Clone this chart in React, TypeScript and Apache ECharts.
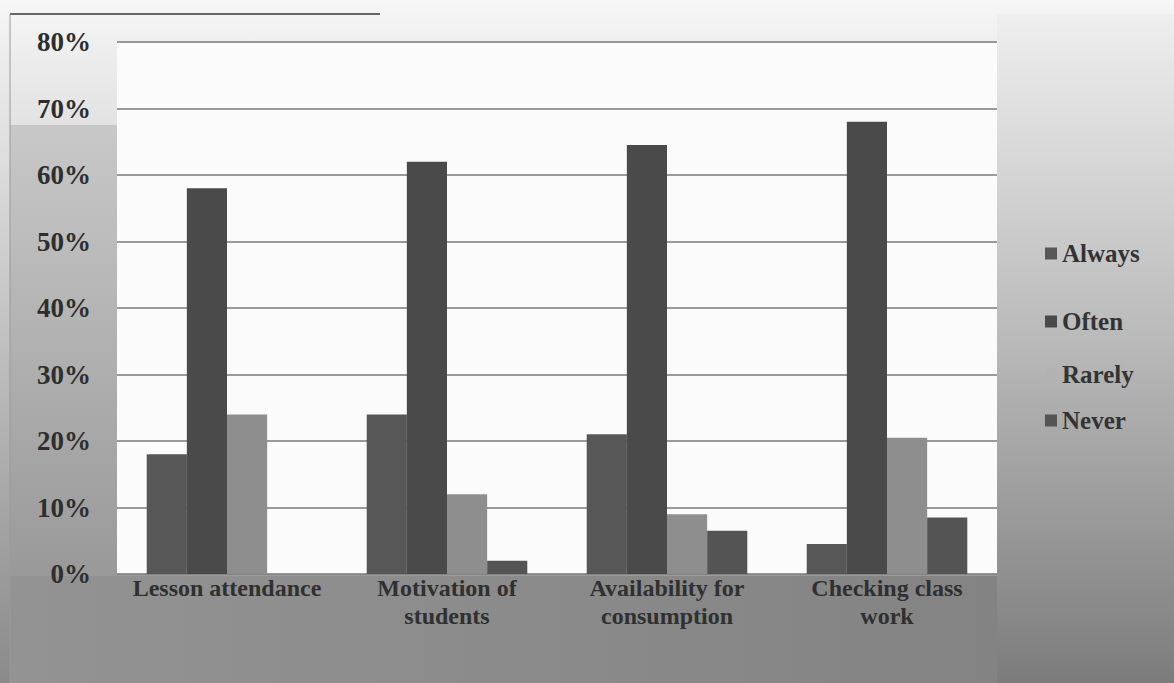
import React, { useEffect, useRef } from "react";
import * as echarts from "echarts";

const categories = [
  "Lesson attendance",
  "Motivation of\nstudents",
  "Availability for\nconsumption",
  "Checking class\nwork",
];
const seriesNames = ["Always", "Often", "Rarely", "Never"];
const always = [18, 24, 21, 4.5];
const often = [58, 62, 64.5, 68];
const rarely = [24, 12, 9, 20.5];
const never = [0, 2, 6.5, 8.5];
const yTicks = [0, 10, 20, 30, 40, 50, 60, 70, 80];
const colors = ["#575757", "#4a4a4a", "#8e8e8e", "#545454"];

export default function App() {
  const ref = useRef<HTMLDivElement>(null);
  useEffect(() => {
    if (!ref.current) return;
    const chart = echarts.init(ref.current, null, { renderer: "svg" });
    const font = "'Liberation Serif', 'Times New Roman', serif";
    const values = [always, often, rarely, never];
    const legendTops = [236, 304, 357, 403];
    const legendIconColors = ["#575757", "#4a4a4a", "#b2b2b2", "#545454"];
    chart.setOption({
      animation: false,
      backgroundColor: {
        type: "linear", x: 0, y: 0, x2: 0, y2: 1,
        colorStops: [
          { offset: 0, color: "#f6f6f6" },
          { offset: 1, color: "#8a8a8a" },
        ],
      },
      graphic: [
        {
          type: "rect", z: -10, silent: true,
          shape: { x: 10, y: 125, width: 107, height: 558 },
          style: {
            fill: {
              type: "linear", x: 0, y: 0, x2: 0, y2: 1,
              colorStops: [
                { offset: 0, color: "#c8c8c8" },
                { offset: 1, color: "#8e8e8e" },
              ],
            },
          },
        },
        {
          type: "rect", z: -10, silent: true,
          shape: { x: 10, y: 576, width: 990, height: 107 },
          style: {
            fill: {
              type: "linear", x: 0, y: 0, x2: 1, y2: 0,
              colorStops: [
                { offset: 0, color: "#939393" },
                { offset: 1, color: "#838383" },
              ],
            },
          },
        },
        {
          type: "rect", z: -10, silent: true,
          shape: { x: 997, y: 14, width: 177, height: 669 },
          style: {
            fill: {
              type: "linear", x: 0, y: 0, x2: 0, y2: 1,
              colorStops: [
                { offset: 0, color: "#efefef" },
                { offset: 0.5, color: "#b8b8b8" },
                { offset: 1, color: "#7c7c7c" },
              ],
            },
          },
        },
        {
          type: "line", z: -5, silent: true,
          shape: { x1: 10, y1: 14, x2: 380, y2: 14 },
          style: { stroke: "#666", lineWidth: 2 },
        },
        {
          type: "line", z: -5, silent: true,
          shape: { x1: 10, y1: 14, x2: 10, y2: 683 },
          style: { stroke: "#999", lineWidth: 1 },
        },
      ],
      grid: {
        left: 117,
        right: 177,
        top: 42,
        bottom: 109,
        show: true,
        backgroundColor: "#fbfbfb",
        borderWidth: 0,
      },
      legend: seriesNames.map((n, i) => ({
        data: [{ name: n, itemStyle: { color: legendIconColors[i] } }],
        orient: "vertical",
        left: 1040,
        top: legendTops[i],
        icon: "rect",
        itemWidth: 12,
        itemHeight: 12,
        itemGap: 4,
        textStyle: { fontFamily: font, fontWeight: "bold", fontSize: 25, color: "#333" },
      })),
      xAxis: {
        type: "category",
        data: categories,
        axisLine: { show: false },
        axisTick: { show: false },
        axisLabel: {
          interval: 0,
          margin: 0,
          fontFamily: font,
          fontWeight: "bold",
          fontSize: 24,
          lineHeight: 28,
          color: "#303030",
        },
      },
      yAxis: {
        type: "value",
        min: 0,
        max: 80,
        interval: 10,
        axisLine: { show: false },
        axisTick: { show: false },
        splitLine: { lineStyle: { color: "#7a7a7a", width: 1.5 } },
        axisLabel: {
          margin: 26,
          fontFamily: font,
          fontWeight: "bold",
          fontSize: 27,
          color: "#2e2e2e",
          formatter: (v: number) => (yTicks.includes(v) ? v + "%" : ""),
        },
      },
      series: seriesNames.map((n, i) => ({
        name: n,
        type: "bar",
        data: values[i],
        barGap: "0%",
        barCategoryGap: "27%",
        itemStyle: { color: colors[i] },
      })),
    });
    return () => chart.dispose();
  }, []);
  return (
    <div
      ref={ref}
      style={{ position: "fixed", left: 0, top: 0, width: 1174, height: 683 }}
    />
  );
}
